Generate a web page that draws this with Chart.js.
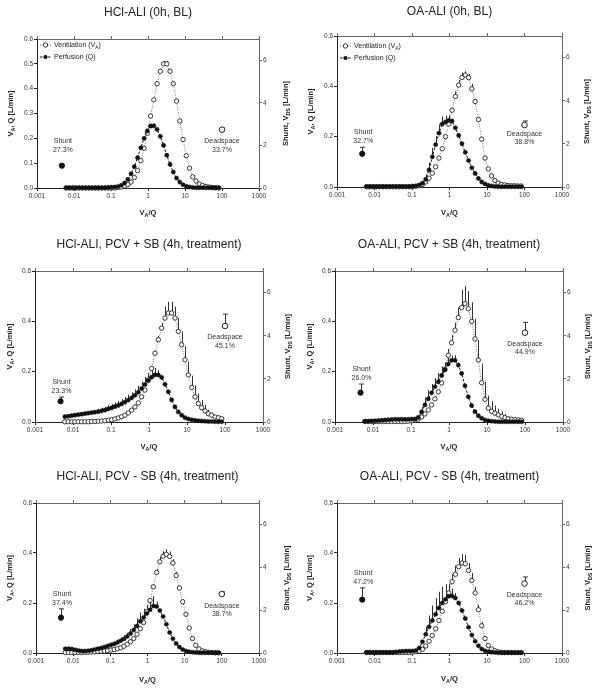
<!DOCTYPE html>
<html><head><meta charset="utf-8">
<script src="https://cdn.jsdelivr.net/npm/chart.js@4.4.1/dist/chart.umd.min.js"></script>
<style>
html,body{margin:0;padding:0;background:#fff;}
#wrap{position:relative;width:600px;height:688px;overflow:hidden;}
canvas{position:absolute;}
</style></head><body><div id="wrap"></div>
<script>
// V_A/Q compartments (x positions of the distribution points)
const vaq = [0.00612,0.00749,0.00917,0.01122,0.01374,0.01681,0.02058,0.02519,
  0.03083,0.03774,0.0462,0.05655,0.06921,0.08472,0.1037,0.1269,
  0.1553,0.1901,0.2327,0.2849,0.3487,0.4268,0.5224,0.6394,
  0.7827,0.9581,1.173,1.435,1.757,2.15,2.633,3.222,
  3.944,4.828,5.908,7.232,8.852,10.83,13.26,16.23,
  19.87,24.31,29.76,36.43,44.59,54.58,66.81,81.78];
const shuntX = 0.0047;
const deadspaceX = 100;
const xTickValues = [0.001,0.01,0.1,1,10,100,1000];
const xTickLabels = ['0.001','0.01','0.1','1','10','100','1000'];
const yTicksFine = [0,0.1,0.2,0.3,0.4,0.5,0.6];
const yTicksCoarse = [0,0.2,0.4,0.6];
const y2TickValues = [0,2,4,6];

const titles = ['HCl-ALI (0h, BL)','OA-ALI (0h, BL)','HCl-ALI, PCV + SB (4h, treatment)',
  'OA-ALI, PCV + SB (4h, treatment)','HCl-ALI, PCV - SB (4h, treatment)','OA-ALI, PCV - SB (4h, treatment)'];
const shuntPct = ['27.3%','32.7%','23.3%','26.0%','37.4%','47.2%'];
const deadspacePct = ['33.7%','38.8%','45.1%','44.9%','38.7%','46.2%'];
const shuntLmin = [1.05,1.54,0.96,1.36,1.65,2.49];
const shuntErr = [0.02,0.3,0.2,0.4,0.41,0.55];
const deadspaceLmin = [2.74,2.87,4.45,4.14,2.75,3.24];
const deadspaceErr = [0.08,0.19,0.55,0.48,0.1,0.31];

// Panel 1: HCl-ALI baseline
const hclBlVent = [0,0,0,0,0,0,0,0, 0,0,0,0,0,0,0,0,
  0.002,0.004,0.008,0.014,0.024,0.042,0.07,0.11,
  0.16,0.22,0.29,0.355,0.42,0.47,0.5,0.5,
  0.47,0.42,0.35,0.27,0.195,0.13,0.08,0.045,
  0.028,0.016,0.01,0.006,0.004,0.002,0.001,0];
const hclBlPerf = [0.001,0.001,0.001,0.001,0.001,0.001,0.001,0.001,
  0.001,0.001,0.001,0.001,0.001,0.002,0.003,0.004,
  0.006,0.011,0.02,0.035,0.057,0.086,0.122,0.162,
  0.2,0.23,0.249,0.25,0.236,0.208,0.172,0.132,
  0.095,0.064,0.04,0.024,0.013,0.007,0.004,0.002,
  0.001,0.001,0.001,0.001,0.001,0.001,0.001,0.001];
const hclBlVentErr = [0,0,0,0,0,0,0,0, 0,0,0,0,0,0,0,0, 0,0,0,0,0,0,0,0,
  0,0,0,0,0.008,0.01,0.012,0.012, 0.01,0.008,0.008,0.008,0.008,0.006,0,0, 0,0,0,0,0,0,0,0];
const hclBlPerfErr = [0,0,0,0,0,0,0,0, 0,0,0,0,0,0,0,0, 0,0,0,0,0,0,0,0.006,
  0.008,0.008,0.01,0.01,0.006,0,0,0, 0,0,0,0,0,0,0,0, 0,0,0,0,0,0,0,0];

// Panel 2: OA-ALI baseline
const oaBlVent = [0.001,0.001,0.001,0.001,0.001,0.001,0.001,0.001,
  0.001,0.001,0.001,0.001,0.001,0.001,0.002,0.003,
  0.005,0.01,0.02,0.035,0.055,0.08,0.115,0.152,
  0.2,0.25,0.305,0.36,0.405,0.435,0.445,0.435,
  0.39,0.34,0.268,0.19,0.115,0.072,0.044,0.026,
  0.016,0.01,0.008,0.006,0.005,0.005,0.004,0.004];
const oaBlPerf = [0.002,0.002,0.002,0.002,0.002,0.002,0.002,0.002,
  0.002,0.002,0.002,0.002,0.002,0.002,0.003,0.004,
  0.008,0.015,0.03,0.068,0.12,0.168,0.214,0.25,
  0.258,0.265,0.262,0.235,0.205,0.172,0.138,0.105,
  0.076,0.054,0.034,0.02,0.012,0.007,0.004,0.002,
  0.001,0.001,0.001,0.001,0.001,0.001,0.001,0.001];
const oaBlVentErr = [0,0,0,0,0,0,0,0, 0,0,0,0,0,0,0,0, 0,0,0,0,0,0,0,0,
  0,0,0.01,0.02,0.02,0.02,0.015,0.015, 0.02,0.01,0,0,0,0,0,0, 0,0,0,0,0,0,0,0];
const oaBlPerfErr = [0,0,0,0,0,0,0,0, 0,0,0,0,0,0,0,0,
  0,0,0.02,0.03,0.035,0.035,0.035,0.03, 0.025,0.02,0.01,0,0,0,0,0, 0,0,0,0,0,0,0,0, 0,0,0,0,0,0,0,0];

// Panel 3: HCl-ALI PCV + SB
const hclSbVent = [0.001,0.001,0.001,0.001,0.001,0.001,0.001,0.001,
  0.002,0.002,0.003,0.004,0.005,0.007,0.009,0.012,
  0.016,0.021,0.027,0.036,0.047,0.06,0.076,0.1,
  0.127,0.167,0.213,0.273,0.327,0.373,0.413,0.433,
  0.433,0.413,0.36,0.307,0.247,0.187,0.137,0.1,
  0.073,0.057,0.044,0.033,0.027,0.02,0.017,0.013];
const hclSbPerf = [0.021,0.023,0.025,0.027,0.029,0.031,0.033,0.035,
  0.037,0.039,0.041,0.044,0.047,0.052,0.056,0.061,
  0.066,0.072,0.079,0.087,0.096,0.106,0.118,0.133,
  0.149,0.165,0.178,0.187,0.187,0.177,0.15,0.12,
  0.088,0.06,0.04,0.027,0.017,0.012,0.009,0.007,
  0.005,0.004,0.003,0.002,0.002,0.001,0.001,0.001];
const hclSbVentErr = [0,0,0,0,0,0,0,0, 0,0,0,0,0,0,0,0, 0,0,0,0,0,0,0,0,
  0,0,0,0.01,0.015,0.02,0.045,0.045, 0.045,0.045,0.053,0.053,0.055,0.053,0.047,0.045,
  0.04,0.03,0.025,0.015,0.01,0,0,0];
const hclSbPerfErr = [0.006,0.006,0.006,0.006,0.006,0.006,0.006,0.006,
  0.006,0.006,0.012,0.013,0.014,0.015,0.016,0.017,
  0.018,0.019,0.02,0.021,0.022,0.024,0.026,0.028,
  0.03,0.03,0.03,0.028,0.02,0,0,0, 0,0,0,0,0,0,0,0, 0,0,0,0,0,0,0,0];

// Panel 4: OA-ALI PCV + SB
const oaSbVent = [0.002,0.002,0.002,0.002,0.002,0.002,0.002,0.002,
  0.002,0.002,0.002,0.002,0.002,0.003,0.005,0.008,
  0.012,0.02,0.032,0.048,0.068,0.092,0.12,0.155,
  0.21,0.265,0.315,0.365,0.415,0.455,0.47,0.45,
  0.4,0.33,0.246,0.156,0.09,0.055,0.042,0.035,
  0.028,0.022,0.017,0.013,0.011,0.009,0.008,0.007];
const oaSbPerf = [0.003,0.003,0.004,0.005,0.006,0.007,0.008,0.009,
  0.01,0.011,0.011,0.011,0.011,0.011,0.012,0.012,
  0.018,0.04,0.068,0.092,0.116,0.14,0.16,0.185,
  0.207,0.23,0.245,0.245,0.226,0.193,0.144,0.1,
  0.065,0.041,0.025,0.015,0.008,0.005,0.003,0.002,
  0.001,0.001,0.001,0.001,0.001,0.001,0.001,0.001];
const oaSbVentErr = [0,0,0,0,0,0,0,0, 0,0,0,0,0,0,0,0, 0,0,0,0,0,0,0,0,
  0.02,0.025,0.03,0.03,0.04,0.07,0.07,0.07, 0.075,0.08,0.08,0.075,0.07,0.05,0.04,0.03,
  0.025,0.02,0.015,0,0,0,0,0];
const oaSbPerfErr = [0,0,0,0,0,0,0,0, 0,0,0,0,0,0,0,0,
  0,0.02,0.03,0.035,0.035,0.035,0.035,0.035, 0.03,0.025,0.02,0.02,0.01,0,0,0,
  0,0,0,0,0,0,0,0, 0,0,0,0,0,0,0,0];

// Panel 5: HCl-ALI PCV - SB
const hclNoSbVent = [0.002,0.002,0.002,0.002,0.002,0.002,0.003,0.003,
  0.004,0.005,0.006,0.007,0.008,0.01,0.012,0.014,
  0.017,0.021,0.027,0.035,0.045,0.058,0.075,0.097,
  0.122,0.165,0.21,0.265,0.322,0.365,0.387,0.395,
  0.386,0.36,0.31,0.26,0.205,0.155,0.1,0.058,
  0.031,0.016,0.009,0.005,0.003,0.002,0.001,0.001];
const hclNoSbPerf = [0.017,0.017,0.016,0.013,0.01,0.008,0.008,0.009,
  0.011,0.014,0.017,0.02,0.024,0.028,0.032,0.036,
  0.042,0.049,0.056,0.066,0.078,0.092,0.108,0.127,
  0.142,0.158,0.173,0.188,0.186,0.17,0.146,0.115,
  0.082,0.057,0.038,0.024,0.014,0.008,0.005,0.003,
  0.002,0.001,0.001,0.001,0.001,0.001,0.001,0.001];
const hclNoSbVentErr = [0,0,0,0,0,0,0,0, 0,0,0,0,0,0,0,0, 0,0,0,0,0,0,0,0,
  0,0,0,0.01,0.015,0.02,0.02,0.02, 0.02,0.015,0.015,0.01,0.01,0,0,0, 0,0,0,0,0,0,0,0];
const hclNoSbPerfErr = [0.008,0.008,0.006,0.004,0,0,0,0,
  0,0,0,0,0.008,0.009,0.01,0.011,
  0.012,0.013,0.014,0.015,0.018,0.022,0.03,0.035,
  0.035,0.035,0.04,0.04,0.02,0,0,0, 0,0,0,0,0,0,0,0, 0,0,0,0,0,0,0,0];

// Panel 6: OA-ALI PCV - SB
const oaNoSbVent = [0.002,0.002,0.002,0.002,0.002,0.002,0.002,0.002,
  0.002,0.002,0.002,0.002,0.002,0.002,0.003,0.005,
  0.008,0.015,0.028,0.047,0.07,0.097,0.13,0.167,
  0.205,0.24,0.285,0.315,0.345,0.36,0.357,0.33,
  0.29,0.24,0.173,0.109,0.058,0.03,0.016,0.009,
  0.005,0.003,0.002,0.002,0.002,0.002,0.002,0.002];
const oaNoSbPerf = [0.002,0.002,0.002,0.002,0.002,0.002,0.002,0.002,
  0.002,0.004,0.006,0.007,0.008,0.008,0.008,0.01,
  0.02,0.045,0.075,0.105,0.13,0.155,0.18,0.2,
  0.215,0.227,0.228,0.22,0.2,0.17,0.138,0.103,
  0.072,0.047,0.029,0.016,0.009,0.005,0.003,0.002,
  0.001,0.001,0.001,0.001,0.001,0.001,0.001,0.001];
const oaNoSbVentErr = [0,0,0,0,0,0,0,0, 0,0,0,0,0,0,0,0, 0,0,0,0,0,0,0,0,
  0.02,0.025,0.03,0.035,0.035,0.035,0.035,0.03, 0.03,0.025,0.02,0.015,0,0,0,0, 0,0,0,0,0,0,0,0];
const oaNoSbPerfErr = [0,0,0,0,0,0,0,0, 0,0,0,0,0,0,0,0,
  0,0,0.03,0.045,0.06,0.065,0.065,0.065, 0.06,0.05,0.03,0.02,0,0,0,0,
  0,0,0,0,0,0,0,0, 0,0,0,0,0,0,0,0];

const panels = [
  {vent:hclBlVent, perf:hclBlPerf, ventErr:hclBlVentErr, perfErr:hclBlPerfErr, yTicks:yTicksFine, legend:true},
  {vent:oaBlVent, perf:oaBlPerf, ventErr:oaBlVentErr, perfErr:oaBlPerfErr, yTicks:yTicksCoarse, legend:true},
  {vent:hclSbVent, perf:hclSbPerf, ventErr:hclSbVentErr, perfErr:hclSbPerfErr, yTicks:yTicksCoarse, legend:false},
  {vent:oaSbVent, perf:oaSbPerf, ventErr:oaSbVentErr, perfErr:oaSbPerfErr, yTicks:yTicksCoarse, legend:false},
  {vent:hclNoSbVent, perf:hclNoSbPerf, ventErr:hclNoSbVentErr, perfErr:hclNoSbPerfErr, yTicks:yTicksCoarse, legend:false},
  {vent:oaNoSbVent, perf:oaNoSbPerf, ventErr:oaNoSbVentErr, perfErr:oaNoSbPerfErr, yTicks:yTicksCoarse, legend:false}
];

// Layout / style per panel (pixels inside each panel canvas)
const layouts = [
  {x:0,  y:0,   W:300,H:230,L:37,R:259,T:39,B:188,titleY:13,xTitleY:213,yTitleX:11,y2TitleX:286,shuntGap:24.5,dsGap:11.5,legY:45},
  {x:300,y:0,   W:300,H:230,L:37,R:262,T:36,B:187,titleY:12,xTitleY:213,yTitleX:11,y2TitleX:287,shuntGap:15,dsGap:8.5,legY:46},
  {x:0,  y:230, W:300,H:230,L:35,R:263,T:41,B:192,titleY:15,xTitleY:217,yTitleX:10,y2TitleX:288,shuntGap:15,dsGap:11.5},
  {x:300,y:230, W:300,H:230,L:35,R:263,T:41,B:192,titleY:15,xTitleY:217,yTitleX:10,y2TitleX:288,shuntGap:15,dsGap:11},
  {x:0,  y:460, W:300,H:228,L:36,R:259,T:43,B:193,titleY:17,xTitleY:220,yTitleX:10,y2TitleX:287,shuntGap:15,dsGap:11.5},
  {x:300,y:460, W:300,H:228,L:37,R:262,T:43,B:193,titleY:17,xTitleY:219,yTitleX:10,y2TitleX:288,shuntGap:15,dsGap:11}
];

const F = '"Liberation Sans", Arial, Helvetica, sans-serif';
const INK = '#222';

function richWidth(ctx, parts, size, bold){
  let w = 0;
  for (const [t, sub] of parts){
    ctx.font = (bold ? 'bold ' : '') + (sub ? size*0.72 : size) + 'px ' + F;
    w += ctx.measureText(t).width;
  }
  return w;
}
function drawRich(ctx, parts, x, y, size, bold, align){
  const w = richWidth(ctx, parts, size, bold);
  let cx = align === 'center' ? x - w/2 : x;
  ctx.textAlign = 'left'; ctx.textBaseline = 'middle';
  for (const [t, sub] of parts){
    ctx.font = (bold ? 'bold ' : '') + (sub ? size*0.72 : size) + 'px ' + F;
    ctx.fillText(t, cx, sub ? y + size*0.32 : y);
    cx += ctx.measureText(t).width;
  }
}

const panelPlugin = {
  id: 'panelDecor',
  beforeDatasetsDraw(chart){
    const ctx = chart.ctx;
    ctx.save();
    ctx.strokeStyle = '#333';
    ctx.lineWidth = 1;
    chart.data.datasets.forEach((ds, di) => {
      const meta = chart.getDatasetMeta(di);
      const yScale = chart.scales[ds.yAxisID];
      const errs = ds.errs || [];
      meta.data.forEach((pt, i) => {
        const e = errs[i];
        if (!e) return;
        const v = ds.data[i].y;
        const top = yScale.getPixelForValue(v + e);
        const px = Math.round(pt.x) + 0.5;
        ctx.beginPath(); ctx.moveTo(px, pt.y); ctx.lineTo(px, top); ctx.stroke();
        const cap = ds.cap || 0;
        if (cap){ ctx.beginPath(); ctx.moveTo(px - cap, top); ctx.lineTo(px + cap, top); ctx.stroke(); }
      });
    });
    ctx.restore();
  },
  afterDraw(chart){
    const ctx = chart.ctx;
    const o = chart.options.plugins.panelDecor;
    const lay = o.lay, idx = o.idx, p = panels[idx];
    const ca = chart.chartArea;
    const midX = (ca.left + ca.right)/2, midY = (ca.top + ca.bottom)/2;
    ctx.save();
    ctx.fillStyle = INK;
    // title
    ctx.font = '12px ' + F; ctx.textAlign = 'center'; ctx.textBaseline = 'middle';
    ctx.fillText(titles[idx], midX, lay.titleY);
    // x axis title
    drawRich(ctx, [['V',0],['A',1],['/Q',0]], midX, lay.xTitleY, 7.5, true, 'center');
    // left axis title
    ctx.save(); ctx.translate(lay.yTitleX, midY); ctx.rotate(-Math.PI/2);
    drawRich(ctx, [['V',0],['A',1],[', Q [L/min]',0]], 0, 0, 7.5, true, 'center');
    ctx.restore();
    // right axis title
    ctx.save(); ctx.translate(lay.y2TitleX, midY); ctx.rotate(-Math.PI/2);
    drawRich(ctx, [['Shunt, V',0],['DS',1],[' [L/min]',0]], 0, 0, 7.5, true, 'center');
    ctx.restore();
    // legend
    if (p.legend){
      const x0 = ca.left + 3, y1 = lay.legY, y2 = lay.legY + 12;
      ctx.strokeStyle = '#444'; ctx.lineWidth = 0.8; ctx.setLineDash([1,1.5]);
      ctx.beginPath(); ctx.moveTo(x0, y1); ctx.lineTo(x0 + 11, y1); ctx.stroke();
      ctx.setLineDash([2.5,1.5]); ctx.strokeStyle = '#111'; ctx.lineWidth = 1;
      ctx.beginPath(); ctx.moveTo(x0, y2); ctx.lineTo(x0 + 11, y2); ctx.stroke();
      ctx.setLineDash([]);
      ctx.beginPath(); ctx.arc(x0 + 5.5, y1, 2.2, 0, Math.PI*2); ctx.fillStyle = '#fff'; ctx.fill();
      ctx.strokeStyle = '#222'; ctx.lineWidth = 0.9; ctx.stroke();
      ctx.beginPath(); ctx.arc(x0 + 5.5, y2, 2.1, 0, Math.PI*2); ctx.fillStyle = '#111'; ctx.fill();
      ctx.fillStyle = INK;
      drawRich(ctx, [['Ventilation (V',0],['A',1],[')',0]], x0 + 14, y1, 7, false, 'left');
      drawRich(ctx, [['Perfusion (Q)',0]], x0 + 14, y2, 7, false, 'left');
    }
    // shunt and deadspace labels
    const xs = chart.scales.x, y2s = chart.scales.y2;
    ctx.fillStyle = '#333'; ctx.font = '7px ' + F; ctx.textAlign = 'center'; ctx.textBaseline = 'middle';
    const sx = xs.getPixelForValue(shuntX) + 1;
    const sTop = y2s.getPixelForValue(shuntLmin[idx] + shuntErr[idx]);
    ctx.fillText('Shunt', sx, sTop - lay.shuntGap);
    ctx.fillText(shuntPct[idx], sx, sTop - lay.shuntGap + 9);
    const dx = xs.getPixelForValue(deadspaceX);
    const dy = y2s.getPixelForValue(deadspaceLmin[idx]);
    ctx.fillText('Deadspace', dx, dy + lay.dsGap);
    ctx.fillText(deadspacePct[idx], dx, dy + lay.dsGap + 8.5);
    ctx.restore();
  }
};

function decadeTicks(s){ s.ticks = xTickValues.map(v => ({value: v})); }

function build(idx){
  const lay = layouts[idx], p = panels[idx];
  const cv = document.createElement('canvas');
  cv.width = lay.W; cv.height = lay.H;
  cv.style.left = lay.x + 'px'; cv.style.top = lay.y + 'px';
  cv.style.width = lay.W + 'px'; cv.style.height = lay.H + 'px';
  document.getElementById('wrap').appendChild(cv);
  const tickFont = {size: 6.5, family: F};
  new Chart(cv.getContext('2d'), {
    type: 'scatter',
    data: { datasets: [
      { label:'Perfusion (Q)', data: vaq.map((x,i)=>({x, y:p.perf[i]})), errs: p.perfErr,
        showLine:true, borderColor:'#111', borderWidth:1, borderDash:[2.5,1.5],
        pointRadius:2.1, pointBackgroundColor:'#111', pointBorderColor:'#111', pointBorderWidth:0.5,
        yAxisID:'y', order:0, clip:false },
      { label:'Ventilation (VA)', data: vaq.map((x,i)=>({x, y:p.vent[i]})), errs: p.ventErr,
        showLine:true, borderColor:'#555', borderWidth:0.8, borderDash:[1,1.5],
        pointRadius:2.2, pointBackgroundColor:'#fff', pointBorderColor:'#222', pointBorderWidth:0.9,
        yAxisID:'y', order:1, clip:false },
      { label:'Shunt', data:[{x:shuntX, y:shuntLmin[idx]}], errs:[shuntErr[idx]], cap:2.5,
        showLine:false, pointRadius:2.6, pointBackgroundColor:'#111', pointBorderColor:'#111',
        yAxisID:'y2', order:0, clip:false },
      { label:'Deadspace', data:[{x:deadspaceX, y:deadspaceLmin[idx]}], errs:[deadspaceErr[idx]], cap:2.5,
        showLine:false, pointRadius:2.8, pointBackgroundColor:'#fff', pointBorderColor:'#222', pointBorderWidth:1,
        yAxisID:'y2', order:0, clip:false }
    ]},
    options: {
      responsive:false, animation:false, devicePixelRatio:1,
      layout:{padding:0},
      events:[],
      plugins:{ legend:{display:false}, tooltip:{enabled:false}, title:{display:false},
        panelDecor:{lay, idx} },
      scales: {
        x: { type:'logarithmic', position:'bottom', min:0.001, max:1000,
          afterBuildTicks: decadeTicks,
          afterFit: s => { s.height = lay.H - lay.B; },
          ticks:{ callback:(v,i)=>xTickLabels[i], font:tickFont, color:'#333', padding:1, maxRotation:0, autoSkip:false },
          grid:{ drawOnChartArea:false, drawTicks:true, tickLength:3, color:'#222' },
          border:{ color:'#222', width:1 } },
        x2: { type:'logarithmic', position:'top', min:0.001, max:1000,
          afterBuildTicks: decadeTicks,
          afterFit: s => { s.height = lay.T; },
          ticks:{ display:false },
          grid:{ drawOnChartArea:false, drawTicks:true, tickLength:3, color:'#666' },
          border:{ color:'#666', width:1 } },
        y: { type:'linear', position:'left', min:0, max:0.6,
          afterBuildTicks: s => { s.ticks = p.yTicks.map(v => ({value:v})); },
          afterFit: s => { s.width = lay.L; },
          ticks:{ callback:v=>v.toFixed(1), font:tickFont, color:'#333', padding:1, autoSkip:false },
          grid:{ drawOnChartArea:false, drawTicks:true, tickLength:3, color:'#222' },
          border:{ color:'#222', width:1 } },
        y2: { type:'linear', position:'right', min:0, max:7,
          afterBuildTicks: s => { s.ticks = y2TickValues.map(v => ({value:v})); },
          afterFit: s => { s.width = lay.W - lay.R; },
          ticks:{ callback:v=>String(v), font:tickFont, color:'#333', padding:1, autoSkip:false },
          grid:{ drawOnChartArea:false, drawTicks:true, tickLength:3, color:'#666' },
          border:{ color:'#666', width:1 } }
      }
    },
    plugins:[panelPlugin]
  });
}
for (let i = 0; i < 6; i++) build(i);
</script>
</body></html>
